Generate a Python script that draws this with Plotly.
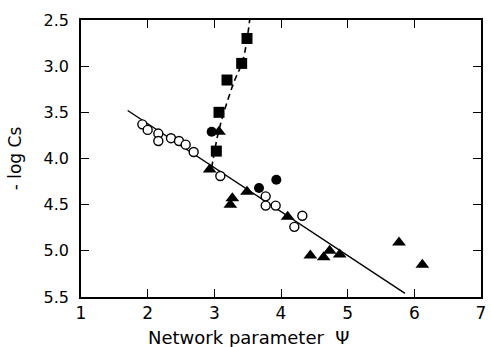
import plotly.graph_objects as go

# Data
sq_x = [3.03, 3.07, 3.19, 3.41, 3.49]
sq_y = [3.92, 3.50, 3.15, 2.97, 2.70]

fc_x = [2.96, 3.67, 3.93]
fc_y = [3.71, 4.32, 4.23]

tri_x = [3.07, 2.93, 3.49, 3.27, 3.24, 4.10, 4.44, 4.64, 4.73, 4.88, 5.77, 6.12]
tri_y = [3.71, 4.12, 4.36, 4.43, 4.50, 4.63, 5.05, 5.07, 5.00, 5.04, 4.91, 5.15]

oc_x = [1.92, 2.00, 2.16, 2.16, 2.35, 2.47, 2.57, 2.69, 3.09, 3.77, 3.77, 3.92, 4.32, 4.20]
oc_y = [3.63, 3.69, 3.73, 3.81, 3.78, 3.81, 3.85, 3.93, 4.19, 4.41, 4.51, 4.51, 4.62, 4.74]

fit_x = [1.70, 5.86]
fit_y = [3.48, 5.46]

dash_x = [2.96, 3.07, 3.28, 3.43, 3.53]
dash_y = [4.10, 3.69, 3.20, 2.93, 2.50]

x_ticks = [1, 2, 3, 4, 5, 6, 7]
y_ticks = [2.5, 3.0, 3.5, 4.0, 4.5, 5.0, 5.5]
y_ticktext = ["2.5", "3.0", "3.5", "4.0", "4.5", "5.0", "5.5"]

fig = go.Figure()
fig.add_trace(go.Scatter(x=fit_x, y=fit_y, mode="lines",
                         line=dict(color="black", width=1.4)))
fig.add_trace(go.Scatter(x=dash_x, y=dash_y, mode="lines",
                         line=dict(color="black", width=1.6, dash="6px,4px", shape="spline")))
fig.add_trace(go.Scatter(x=oc_x, y=oc_y, mode="markers",
                         marker=dict(symbol="circle", size=9, color="white",
                                     line=dict(color="black", width=1.4))))
fig.add_trace(go.Scatter(x=tri_x, y=tri_y, mode="markers",
                         marker=dict(symbol="triangle-up", size=12, color="black",
                                     line=dict(width=0))))
fig.add_trace(go.Scatter(x=fc_x, y=fc_y, mode="markers",
                         marker=dict(symbol="circle", size=10, color="black",
                                     line=dict(width=0))))
fig.add_trace(go.Scatter(x=sq_x, y=sq_y, mode="markers",
                         marker=dict(symbol="square", size=11, color="black",
                                     line=dict(width=0))))

font = "DejaVu Sans, Arial, sans-serif"
fig.update_layout(
    width=491, height=347,
    margin=dict(l=81, r=5, t=20, b=50),
    paper_bgcolor="white", plot_bgcolor="white",
    showlegend=False,
    font=dict(family=font, size=16, color="black"),
    xaxis=dict(range=[1, 7], tickvals=x_ticks, ticks="inside", ticklen=8,
               tickwidth=1.2, tickcolor="black", mirror="ticks", showline=True,
               linecolor="black", linewidth=1.5, showgrid=False, zeroline=False,
               tickfont=dict(size=17)),
    yaxis=dict(range=[5.5, 2.5], tickvals=y_ticks, ticktext=y_ticktext,
               ticks="inside", ticklen=8, tickwidth=1.2, tickcolor="black",
               mirror="ticks", showline=True, linecolor="black", linewidth=1.5,
               showgrid=False, zeroline=False, tickfont=dict(size=16),
               ticklabelstandoff=7,
               title=dict(text="- log Cs", font=dict(size=17), standoff=18)),
    annotations=[dict(text="Network parameter  Ψ", xref="paper", yref="paper",
                      x=0.42, y=-0.148, xanchor="center", yanchor="middle",
                      showarrow=False, font=dict(size=18))],
)
fig.write_html("out.html")
